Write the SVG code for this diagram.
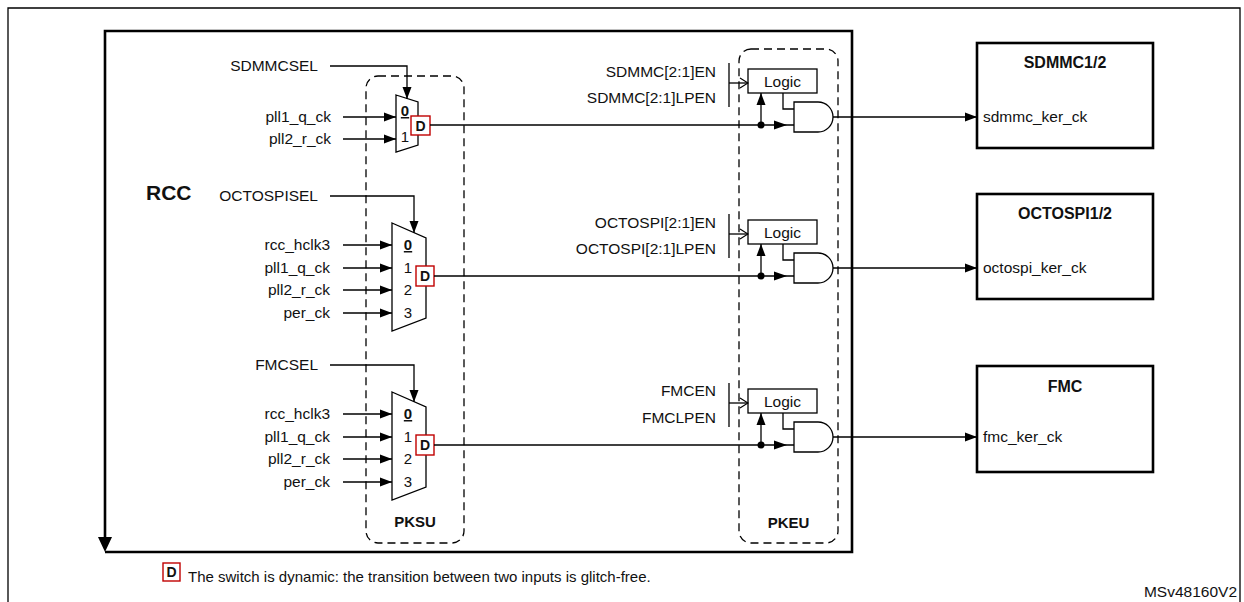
<svg xmlns="http://www.w3.org/2000/svg" width="1244" height="602" viewBox="0 0 1244 602">
<style>
text{font-family:"Liberation Sans",Arial,sans-serif;fill:#111}
.l{font-size:15.5px}
.r{text-anchor:end}
.m{text-anchor:middle}
.b{font-weight:bold}
.ln{fill:none;stroke:#000;stroke-width:1.3}
.thk{fill:none;stroke:#000;stroke-width:2.6}
.dash{fill:none;stroke:#000;stroke-width:1.3;stroke-dasharray:8,5}
.mux{fill:#fff;stroke:#000;stroke-width:1.3}
.dbox{fill:#fff;stroke:#c00000;stroke-width:1.4}
.gate{fill:#fff;stroke:#000;stroke-width:1.3}
.dt{font-size:14px;font-weight:bold}
</style>
<defs>
<marker id="arr" markerUnits="userSpaceOnUse" markerWidth="13" markerHeight="10" refX="12" refY="5" orient="auto">
<path d="M0,0.5 L12,5 L0,9.5 z" fill="#000"/>
</marker>
<marker id="open" markerUnits="userSpaceOnUse" markerWidth="10" markerHeight="12" refX="9" refY="6" orient="auto">
<path d="M1,1 L9,6 L1,11" fill="none" stroke="#000" stroke-width="1.2"/>
</marker>
</defs>

<g id="frame">
<path class="ln" d="M8,602 V8 H1240 V602" stroke-width="2"/>
</g>

<g id="rcc">
<path class="thk" d="M105,538 V31 H852 V552 H105"/>
<polygon points="98,537 112,537 105,552" fill="#000"/>
<text x="146" y="200" class="b" font-size="21">RCC</text>
</g>

<g id="pksu">
<rect class="dash" x="366" y="76" width="98" height="467" rx="12"/>
<text x="415" y="527" class="b m" font-size="15">PKSU</text>
</g>

<g id="pkeu">
<rect class="dash" x="739" y="49" width="99" height="494" rx="12"/>
<text x="788.5" y="528" class="b m" font-size="15">PKEU</text>
</g>

<g id="mux-sdmmc">
<polygon class="mux" points="396,95 418,102 418,145 396,152"/>
<text x="405" y="116" class="m b" font-size="15" text-decoration="underline">0</text>
<text x="405" y="142" class="m" font-size="15">1</text>
<rect class="dbox" x="411" y="116" width="19" height="19"/>
<text x="420.5" y="130.5" class="dt m">D</text>
<text x="318" y="71" class="l r">SDMMCSEL</text>
<text x="331" y="122" class="l r">pll1_q_ck</text>
<text x="331" y="144" class="l r">pll2_r_ck</text>
</g>

<g id="mux-octospi">
<polygon class="mux" points="392,223 426,238 426,318 392,331"/>
<text x="408" y="250" class="m b" font-size="15" text-decoration="underline">0</text>
<text x="408" y="273" class="m" font-size="15">1</text>
<text x="408" y="295" class="m" font-size="15">2</text>
<text x="408" y="318" class="m" font-size="15">3</text>
<rect class="dbox" x="416" y="266" width="18" height="20"/>
<text x="425" y="281" class="dt m">D</text>
<text x="318" y="201" class="l r">OCTOSPISEL</text>
<text x="330" y="250" class="l r">rcc_hclk3</text>
<text x="330" y="273" class="l r">pll1_q_ck</text>
<text x="330" y="295" class="l r">pll2_r_ck</text>
<text x="330" y="318" class="l r">per_ck</text>
</g>

<g id="mux-fmc">
<polygon class="mux" points="392,392 426,407 426,487 392,500"/>
<text x="408" y="419" class="m b" font-size="15" text-decoration="underline">0</text>
<text x="408" y="442" class="m" font-size="15">1</text>
<text x="408" y="464" class="m" font-size="15">2</text>
<text x="408" y="487" class="m" font-size="15">3</text>
<rect class="dbox" x="416" y="435" width="18" height="20"/>
<text x="425" y="450" class="dt m">D</text>
<text x="318" y="370" class="l r">FMCSEL</text>
<text x="330" y="419" class="l r">rcc_hclk3</text>
<text x="330" y="442" class="l r">pll1_q_ck</text>
<text x="330" y="464" class="l r">pll2_r_ck</text>
<text x="330" y="487" class="l r">per_ck</text>
</g>

<g id="gate-sdmmc">
<text x="716" y="77" class="l r">SDMMC[2:1]EN</text>
<text x="716" y="103" class="l r">SDMMC[2:1]LPEN</text>
<rect class="gate" x="748" y="69" width="69" height="24"/>
<text x="782.5" y="87" class="l m">Logic</text>
<path class="gate" d="M794,102 H818 A15,15 0 0 1 818,132 H794 Z"/>
<circle cx="761" cy="125" r="3.5" fill="#000"/>
</g>

<g id="gate-octospi">
<text x="716" y="228" class="l r">OCTOSPI[2:1]EN</text>
<text x="716" y="254" class="l r">OCTOSPI[2:1]LPEN</text>
<rect class="gate" x="748" y="220" width="69" height="24"/>
<text x="782.5" y="238" class="l m">Logic</text>
<path class="gate" d="M794,253 H818 A15,15 0 0 1 818,283 H794 Z"/>
<circle cx="761" cy="276" r="3.5" fill="#000"/>
</g>

<g id="gate-fmc">
<text x="716" y="396" class="l r">FMCEN</text>
<text x="716" y="423" class="l r">FMCLPEN</text>
<rect class="gate" x="748" y="389" width="69" height="24"/>
<text x="782.5" y="407" class="l m">Logic</text>
<path class="gate" d="M794,422 H818 A15,15 0 0 1 818,452 H794 Z"/>
<circle cx="761" cy="445" r="3.5" fill="#000"/>
</g>

<g id="sdmmc">
<rect class="thk" x="977" y="43" width="176" height="105"/>
<text x="1065" y="68" class="b m" font-size="16">SDMMC1/2</text>
<text x="983" y="122" class="l">sdmmc_ker_ck</text>
</g>

<g id="octospi">
<rect class="thk" x="977" y="194" width="176" height="105"/>
<text x="1065" y="219" class="b m" font-size="16">OCTOSPI1/2</text>
<text x="983" y="273" class="l">octospi_ker_ck</text>
</g>

<g id="fmc">
<rect class="thk" x="977" y="366" width="176" height="106"/>
<text x="1065" y="392" class="b m" font-size="16">FMC</text>
<text x="983" y="442" class="l">fmc_ker_ck</text>
</g>

<g id="connectors">
<path class="ln" d="M330,66 H407 V99" marker-end="url(#arr)"/>
<path class="ln" d="M330,196 H414 V233" marker-end="url(#arr)"/>
<path class="ln" d="M330,365 H414 V402" marker-end="url(#arr)"/>
<line class="ln" x1="343" y1="117" x2="396" y2="117" marker-end="url(#arr)"/>
<line class="ln" x1="343" y1="139" x2="396" y2="139" marker-end="url(#arr)"/>
<line class="ln" x1="343" y1="245" x2="392" y2="245" marker-end="url(#arr)"/>
<line class="ln" x1="343" y1="268" x2="392" y2="268" marker-end="url(#arr)"/>
<line class="ln" x1="343" y1="290" x2="392" y2="290" marker-end="url(#arr)"/>
<line class="ln" x1="343" y1="313" x2="392" y2="313" marker-end="url(#arr)"/>
<line class="ln" x1="343" y1="414" x2="392" y2="414" marker-end="url(#arr)"/>
<line class="ln" x1="343" y1="437" x2="392" y2="437" marker-end="url(#arr)"/>
<line class="ln" x1="343" y1="459" x2="392" y2="459" marker-end="url(#arr)"/>
<line class="ln" x1="343" y1="482" x2="392" y2="482" marker-end="url(#arr)"/>
<line class="ln" x1="430" y1="125" x2="794" y2="125"/>
<polygon points="774,120.5 787,125 774,129.5" fill="#000"/>
<line class="ln" x1="761" y1="125" x2="761" y2="93" marker-end="url(#arr)"/>
<path class="ln" d="M783,93 V109 H794"/>
<line class="ln" x1="729" y1="63" x2="729" y2="107"/>
<line class="ln" x1="729" y1="83" x2="748" y2="83" marker-end="url(#open)"/>
<line class="ln" x1="833" y1="117" x2="977" y2="117" marker-end="url(#arr)"/>
<line class="ln" x1="434" y1="276" x2="794" y2="276"/>
<polygon points="774,271.5 787,276 774,280.5" fill="#000"/>
<line class="ln" x1="761" y1="276" x2="761" y2="244" marker-end="url(#arr)"/>
<path class="ln" d="M783,244 V260 H794"/>
<line class="ln" x1="729" y1="214" x2="729" y2="258"/>
<line class="ln" x1="729" y1="234" x2="748" y2="234" marker-end="url(#open)"/>
<line class="ln" x1="833" y1="268" x2="977" y2="268" marker-end="url(#arr)"/>
<line class="ln" x1="434" y1="445" x2="794" y2="445"/>
<polygon points="774,440.5 787,445 774,449.5" fill="#000"/>
<line class="ln" x1="761" y1="445" x2="761" y2="413" marker-end="url(#arr)"/>
<path class="ln" d="M783,413 V429 H794"/>
<line class="ln" x1="729" y1="383" x2="729" y2="427"/>
<line class="ln" x1="729" y1="403" x2="748" y2="403" marker-end="url(#open)"/>
<line class="ln" x1="833" y1="437" x2="977" y2="437" marker-end="url(#arr)"/>
</g>

<g id="legend">
<rect class="dbox" x="163" y="563" width="17" height="18"/>
<text x="171.5" y="577" class="dt m">D</text>
<text x="188" y="582" font-size="15">The switch is dynamic: the transition between two inputs is glitch-free.</text>
<text x="1237" y="597" class="r" font-size="15.5">MSv48160V2</text>
</g>
</svg>
